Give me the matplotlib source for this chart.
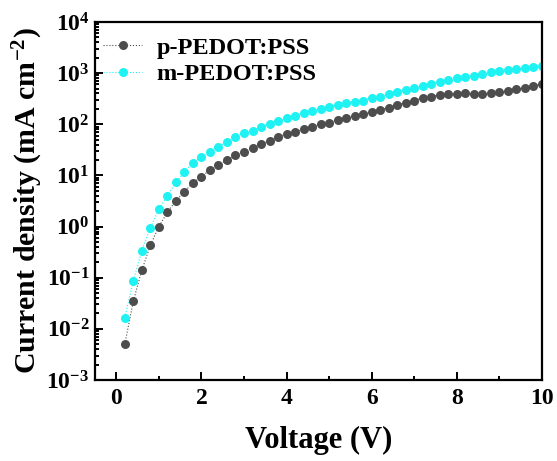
'''
  J-V curves, p- vs m-PEDOT:PSS
'''
import matplotlib
matplotlib.use('Agg')
import matplotlib.pyplot as plt
from matplotlib.ticker import LogLocator, MultipleLocator

voltage = [round(0.2 * i, 1) for i in range(1, 51)]

p_pedot = [0.005, 0.035, 0.14, 0.43, 1.0, 1.9, 3.2, 4.8, 7.2, 9.4,
           12.9, 16, 20, 25, 29, 35, 41, 47, 57, 65,
           71, 81, 89, 103, 107, 124, 133, 142, 158, 173,
           192, 210, 241, 264, 290, 333, 349, 375, 390, 390,
           405, 390, 390, 405, 425, 445, 490, 510, 560, 615]

m_pedot = [0.0166, 0.087, 0.34, 0.95, 2.2, 4.0, 7.3, 11.8, 17.8, 23,
           29, 36, 46, 57, 68, 74, 89, 103, 117, 133,
           145, 167, 183, 200, 218, 241, 264, 276, 290, 333,
           349, 390, 427, 470, 512, 560, 615, 675, 740, 810,
           850, 890, 970, 1050, 1100, 1150, 1200, 1260, 1300, 1400]

plt.rcParams['font.family'] = ['Liberation Serif', 'DejaVu Serif']
plt.rcParams['font.weight'] = 'bold'
plt.rcParams['mathtext.fontset'] = 'custom'
plt.rcParams['mathtext.rm'] = 'Liberation Serif:bold'
plt.rcParams['mathtext.it'] = 'Liberation Serif:bold'
plt.rcParams['mathtext.bf'] = 'Liberation Serif:bold'

fig = plt.figure(figsize=(5.57, 4.61), dpi=100)
ax = fig.add_axes([0.1706, 0.1757, 0.8024, 0.7766])

ax.plot(voltage, p_pedot, ':', color='#4d4d4d', lw=0.8, marker='o', ms=6.5,
        markeredgewidth=0, label='p-PEDOT:PSS')
ax.plot(voltage, m_pedot, ':', color='#1ff2f2', lw=0.8, marker='o', ms=6.5,
        markeredgewidth=0, label='m-PEDOT:PSS')

ax.set_yscale('log')
ax.set_xlim(-0.5, 10)
ax.set_ylim(1e-3, 1e4)
ax.xaxis.set_major_locator(MultipleLocator(2))
ax.xaxis.set_minor_locator(MultipleLocator(1))
ax.yaxis.set_major_locator(LogLocator(base=10, numticks=20))
ax.yaxis.set_minor_locator(LogLocator(base=10, subs=range(2, 10), numticks=20))

for s in ax.spines.values():
    s.set_linewidth(1.6)
ax.tick_params(which='both', direction='in', top=False, right=False, width=1.4)
ax.tick_params(which='major', length=6, labelsize=17, pad=6)
ax.tick_params(axis='y', which='major', pad=4)
ax.tick_params(which='minor', length=3)

ax.set_xlabel('Voltage (V)', fontsize=22, fontweight='bold', labelpad=12)
ax.set_ylabel(r'Current density (mA cm$^{\mathregular{-2}}$)', fontsize=21.5,
              fontweight='bold', labelpad=1)

ax.legend(loc='upper left', frameon=False, fontsize=17.5, handletextpad=0.6,
          borderaxespad=0.2, labelspacing=0.2, handlelength=1.6,
          bbox_to_anchor=(-0.014, 1.0))

plt.savefig('out.png', dpi=100)
